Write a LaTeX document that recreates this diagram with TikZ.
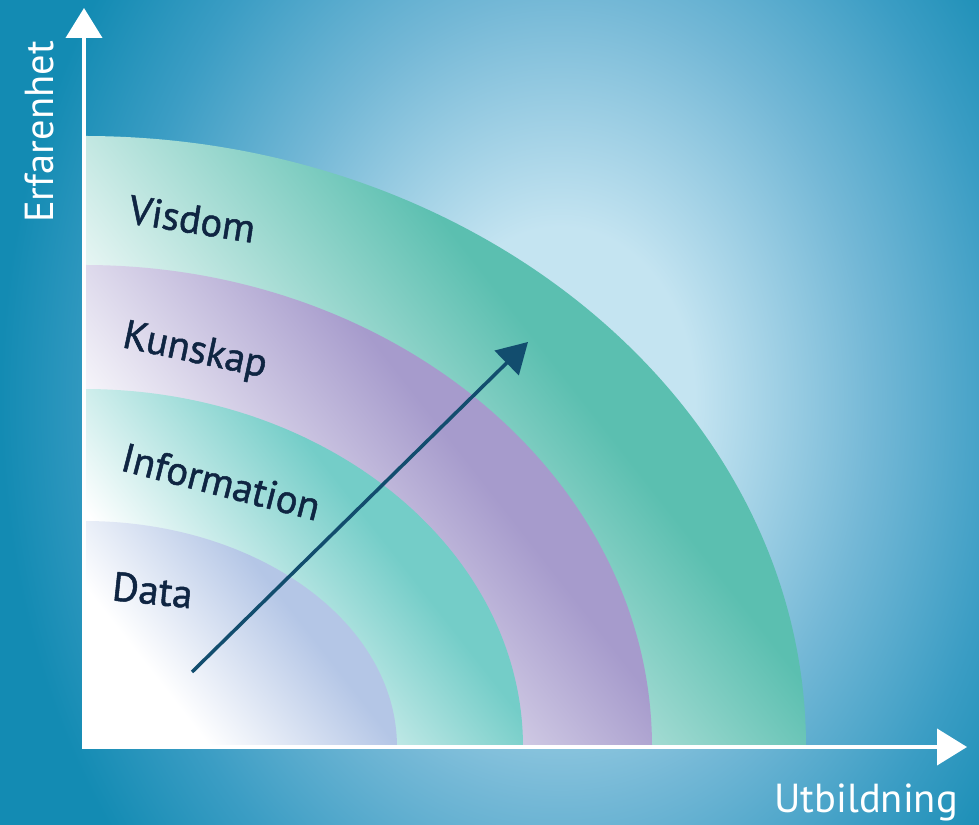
\documentclass[tikz,border=0pt]{standalone}
\usepackage{fontspec}
\setmainfont{PT Sans}
\newfontfamily\levelfont{PT Sans}[FakeBold=1.2]
\usetikzlibrary{arrows.meta}
\definecolor{glowin}{HTML}{C4E4F1}
\definecolor{glowmid}{HTML}{74B8D6}
\definecolor{glowdeep}{HTML}{3B9DC4}
\definecolor{glowout}{HTML}{138BB3}
\definecolor{visdomgreen}{HTML}{5BBFB0}
\definecolor{kunskaplilac}{HTML}{A69BCC}
\definecolor{infoteal}{HTML}{74CDC8}
\definecolor{datablue}{HTML}{B4C6E6}
\definecolor{labelnavy}{HTML}{0F2542}
\definecolor{arrownavy}{HTML}{124D6E}
\colorlet{bandcolor}{white}
\pgfdeclareradialshading{bgglow}{\pgfpoint{0bp}{0bp}}{color(0bp)=(glowin); color(6bp)=(glowin); color(14bp)=(glowmid); color(20bp)=(glowdeep); color(25bp)=(glowout); color(50bp)=(glowout)}
\pgfdeclareverticalshading[bandcolor]{bandfade}{100bp}{color(0bp)=(bandcolor); color(40bp)=(bandcolor); color(67bp)=(white); color(100bp)=(white)}
\begin{document}
\begin{tikzpicture}[x=1pt,y=1pt,
    band/.style={/utils/exec={\colorlet{bandcolor}{#1}}, shading=bandfade, shading angle=128},
    level/.style={text=labelnavy, font=\levelfont\fontsize{40.5}{42}\selectfont, anchor=base west, inner sep=0pt},
    axislabel/.style={text=white, font=\fontsize{40.5}{42}\selectfont, inner sep=0pt},
    axis/.style={draw=white, line width=4pt, {Triangle[length=30pt,width=36pt]}-{Triangle[length=30pt,width=36pt]}}]
    \useasboundingbox (0,0) rectangle (979,824);
    \fill[glowout] (-10,-10) rectangle (989,834);
    \begin{scope}
        \clip (-10,-10) rectangle (989,834);
        \shade[shading=bgglow] (560,424) ellipse (560 and 720);
    \end{scope}
    \coordinate (origin) at (84,77);
    \shade[band=visdomgreen] (origin) -- ++(722,0) arc[start angle=0, end angle=90, x radius=722, y radius=611] -- cycle;
    \shade[band=kunskaplilac] (origin) -- ++(568,0) arc[start angle=0, end angle=90, x radius=568, y radius=482] -- cycle;
    \shade[band=infoteal] (origin) -- ++(439,0) arc[start angle=0, end angle=90, x radius=439, y radius=358] -- cycle;
    \shade[band=datablue] (origin) -- ++(313,0) arc[start angle=0, end angle=90, x radius=313, y radius=226] -- cycle;
    \node[level, rotate=-9] (visdom) at (127,601) {Visdom};
    \node[level, rotate=-12] (kunskap) at (121,477) {Kunskap};
    \node[level, rotate=-14.5] (information) at (119,354) {Information};
    \node[level, rotate=-6] (data) at (111,224) {Data};
    \coordinate (growth base) at (192,152);
    \coordinate (growth tip) at (528,482);
    \draw[arrownavy, line width=3.5pt, -{Triangle[length=30pt,width=34pt]}] (growth base) -- (growth tip);
    \coordinate (ytip) at (84,816);
    \coordinate (xtip) at (967,77);
    \draw[axis] (ytip) -- (origin) -- (xtip);
    \node[axislabel, rotate=90, anchor=base] (erfarenhet) at (53,692) {Erfarenhet};
    \node[axislabel, anchor=base east] (utbildning) at (958,12) {Utbildning};
\end{tikzpicture}
\end{document}
